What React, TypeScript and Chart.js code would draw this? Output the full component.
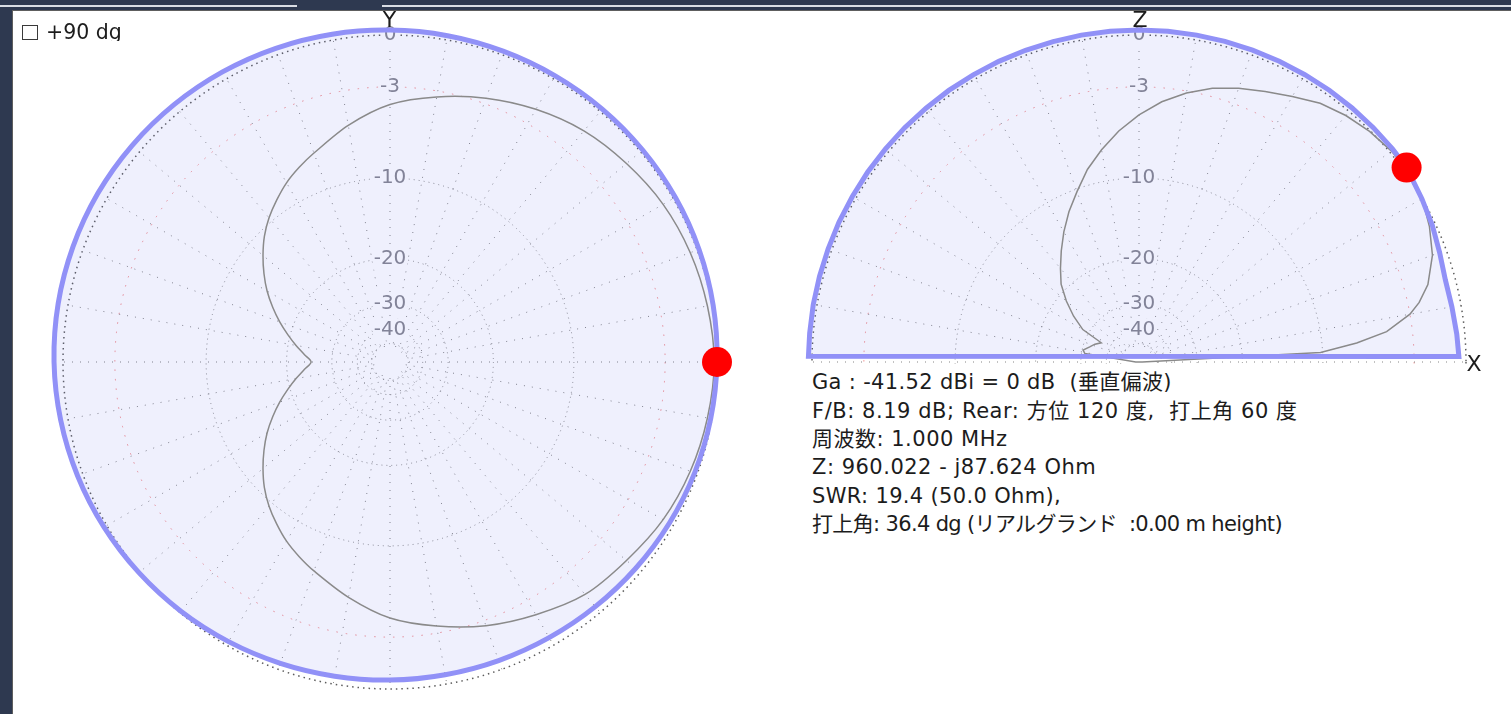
import { useEffect, useRef } from 'react';
import { Chart, registerables } from 'chart.js';

Chart.register(...registerables);
Chart.defaults.font.family = '"DejaVu Sans", sans-serif';

// ---- scale (MMANA log scale: radius ∝ 10^(dB/40)) ----
const RING_DB = [-50, -40, -30, -20, -10, -3, 0];
const RING_LABELS = ['', '-40', '-30', '-20', '-10', '-3', '0'];

// ---- azimuth plane (left plot): [angle deg CCW from +X, dB] ----
const AZ_TOTAL: [number, number][] = [
  [0, 0.0], [10, 0.06], [20, 0.1], [30, 0.13], [40, 0.15], [50, 0.17], [60, 0.18], [70, 0.2], [80, 0.23],
  [90, 0.26], [100, 0.31], [110, 0.36], [120, 0.42], [130, 0.47], [140, 0.51], [150, 0.54], [160, 0.54],
  [170, 0.52], [180, 0.47], [190, 0.39], [200, 0.29], [210, 0.17], [220, 0.04], [230, -0.09], [240, -0.22],
  [250, -0.34], [260, -0.43], [270, -0.48], [280, -0.51], [290, -0.5], [300, -0.47], [310, -0.41],
  [320, -0.33], [330, -0.24], [340, -0.15], [350, -0.07],
];
const AZ_VERT: [number, number][] = [
  [0, -0.15], [10, -0.25], [20, -0.4], [30, -0.63], [40, -1.0], [50, -1.4], [60, -1.98], [70, -2.65],
  [80, -3.38], [90, -4.15], [100, -5.35], [110, -6.7], [115, -7.3], [120, -7.95], [125, -8.75], [130, -9.6],
  [135, -10.6], [140, -11.8], [145, -13.1], [150, -14.5], [155, -16.1], [160, -17.8], [165, -19.6],
  [170, -21.4], [175, -23.2], [180, -24.7], [185, -23.2], [190, -21.4], [195, -19.6], [200, -17.8],
  [205, -16.1], [210, -14.5], [215, -13.1], [220, -11.8], [225, -10.6], [230, -9.6], [235, -8.75],
  [240, -7.95], [245, -7.3], [250, -6.7], [260, -5.45], [270, -4.25], [280, -3.45], [290, -2.66],
  [300, -1.98], [310, -1.3], [320, -1.0], [330, -0.63], [340, -0.4], [350, -0.25],
];
const AZ_PEAK: [number, number][] = [[0, 0.0]];

// ---- elevation plane (right plot): [elevation deg, dB] ----
const EL_TOTAL: [number, number][] = [
  [1, -0.38], [5, -0.43], [10, -0.5], [15, -0.53], [20, -0.38], [25, -0.18], [30, -0.02], [36, 0.2],
  [40, 0.22], [45, 0.23], [50, 0.24], [55, 0.25], [60, 0.25], [65, 0.26], [70, 0.26], [75, 0.26],
  [80, 0.26], [85, 0.26], [90, 0.26], [95, 0.26], [100, 0.26], [105, 0.25], [110, 0.25], [115, 0.25],
  [120, 0.24], [125, 0.24], [130, 0.23], [135, 0.23], [140, 0.22], [145, 0.22], [150, 0.21], [155, 0.21],
  [160, 0.2], [165, 0.2], [170, 0.2], [175, 0.19], [179, 0.19],
];
const EL_VERT: [number, number][] = [
  [0, -80], [3, -10.2], [5, -7.0], [7, -4.7], [10, -3.0], [12, -2.3], [15, -1.55], [20, -0.8], [25, -0.35],
  [30, 0.0], [36, 0.15], [40, 0.1], [45, -0.05], [50, -0.28], [55, -0.6], [60, -1.12], [65, -1.58],
  [70, -2.0], [75, -2.49], [80, -3.13], [85, -3.9], [90, -4.86], [95, -5.97], [100, -7.24], [105, -8.6],
  [110, -10.25], [115, -11.8], [120, -13.5], [125, -15.3], [130, -17.1], [135, -18.9], [140, -21.5],
  [145, -24.5], [150, -28.1], [153, -35.5], [158, -33.5], [163, -32.1], [168, -30.3], [171, -31.0],
  [180, -80],
];
const EL_PEAK: [number, number][] = [[36, 0.2]];

const INFO_LINES = [
  'Ga : -41.52 dBi = 0 dB  (垂直偏波)',
  'F/B: 8.19 dB; Rear: 方位 120 度,  打上角 60 度',
  '周波数: 1.000 MHz',
  'Z: 960.022 - j87.624 Ohm',
  'SWR: 19.4 (50.0 Ohm),',
  '打上角: 36.4 dg (リアルグランド  :0.00 m height)',
];
const INFO_SPACING = [0.33, 0.55, 0.5, 0.5, 0.33, -0.65];

const N = 360;
const toR = (db: number) => Math.pow(10, db / 40);
function series(points: [number, number][]) {
  const out: (number | null)[] = new Array(N).fill(null);
  for (const [deg, db] of points) {
    const idx = (((90 - deg) % N) + N) % N;
    out[idx] = toR(db);
  }
  return out;
}

const R = 327;
const SIZE = 720;
const HALF = SIZE / 2;
const INNER_GAP = 22;
// radial (angle) lines: dotted, starting outside the innermost ring
const ANGLE_DASH = [0, INNER_GAP, ...new Array(44).fill(0).flatMap(() => [1, 7])];

function PolarChart(props: {
  total: [number, number][];
  vert: [number, number][];
  peak: [number, number][];
  tTotal: number;
  tVert: number;
}) {
  const ref = useRef<HTMLCanvasElement>(null);
  useEffect(() => {
    const chart = new Chart(ref.current as HTMLCanvasElement, {
      type: 'radar',
      data: {
        labels: new Array(N).fill(''),
        datasets: [
          {
            data: series(props.peak),
            pointRadius: 15,
            pointBackgroundColor: '#ff0000',
            pointBorderWidth: 0,
            showLine: false,
            fill: false,
          } as any,
          {
            data: series(props.total),
            borderColor: '#9191f7',
            borderWidth: 5,
            backgroundColor: 'rgba(95,105,235,0.1)',
            fill: 'start',
            pointRadius: 0,
            spanGaps: true,
            tension: props.tTotal,
          },
          {
            data: series(props.vert),
            borderColor: '#8a8a8a',
            borderWidth: 1.5,
            fill: false,
            pointRadius: 0,
            spanGaps: true,
            tension: props.tVert,
          },
        ],
      },
      options: {
        responsive: false,
        animation: false,
        events: [],
        layout: { padding: 0 },
        plugins: {
          legend: { display: false },
          tooltip: { enabled: false },
          filler: { drawTime: 'beforeDatasetsDraw' },
        } as any,
        scales: {
          r: {
            min: 0,
            max: 1,
            startAngle: 0,
            afterBuildTicks: (s: any) => {
              s.ticks = [{ value: 0 }, ...RING_DB.map((d) => ({ value: toR(d) }))];
            },
            afterFit: (s: any) => {
              s.xCenter = HALF;
              s.yCenter = HALF;
              s.drawingArea = R;
            },
            ticks: {
              display: true,
              callback: (_v: any, i: number) => (i === 0 ? '' : RING_LABELS[i - 1]),
              font: { size: 20, family: '"DejaVu Sans", sans-serif' },
              color: '#86868f',
              backdropColor: '#ffffff',
              backdropPadding: 1,
              showLabelBackdrop: (c: any) => c.index > 1,
            },
            grid: {
              circular: true,
              color: (c: any) => (c.index === 6 ? '#f08c8c' : c.index === 7 ? '#5c5c5c' : '#8a8a8a'),
              lineWidth: (c: any) => (c.index === 7 ? 1.5 : 1),
            },
            border: {
              dash: (c: any) => (c.index === 6 ? [1.5, 8] : c.index === 7 ? [1.5, 4] : [1, 4]),
            },
            angleLines: {
              display: true,
              color: '#858585',
              lineWidth: (c: any) => (c.index % 10 === 0 ? 1 : 0),
              borderDash: ANGLE_DASH,
              borderDashOffset: (c: any) => ((c.index / 10) * 3) % 8,
            },
            pointLabels: { display: false },
          } as any,
        },
      },
    });
    return () => chart.destroy();
  }, []);
  return <canvas ref={ref} width={SIZE} height={SIZE} style={{ position: 'absolute', left: 0, top: 0 }} />;
}

const LEFT_CX = 390;
const RIGHT_CX = 1139;
const CY = 362;

export default function App() {
  const text = '#1c1c1c';
  const font = '"DejaVu Sans", "Noto Sans CJK JP", sans-serif';
  return (
    <div
      style={{
        position: 'fixed',
        left: 0,
        top: 0,
        width: 1511,
        height: 714,
        background: '#2e3950',
        overflow: 'hidden',
        fontFamily: font,
      }}
    >
      <div style={{ position: 'absolute', left: 0, top: 5, width: 297, height: 2, background: '#d9dde4' }} />
      <div style={{ position: 'absolute', left: 382, top: 5, width: 1511 - 382, height: 2, background: '#d9dde4' }} />
      <div
        style={{
          position: 'absolute',
          left: 12,
          top: 10,
          width: 1511 - 12,
          height: 714 - 10,
          background: '#ffffff',
          borderLeft: '1px solid #5e5e5e',
          borderTop: '1px solid #5e5e5e',
          boxSizing: 'border-box',
        }}
      />
      <div style={{ position: 'absolute', left: LEFT_CX - HALF, top: CY - HALF, width: SIZE, height: SIZE }}>
        <PolarChart total={AZ_TOTAL} vert={AZ_VERT} peak={AZ_PEAK} tTotal={0.3} tVert={0.3} />
      </div>
      <div
        style={{
          position: 'absolute',
          left: RIGHT_CX - HALF,
          top: CY - HALF,
          width: SIZE,
          height: HALF + 2,
          overflow: 'hidden',
        }}
      >
        <PolarChart total={EL_TOTAL} vert={EL_VERT} peak={EL_PEAK} tTotal={0} tVert={0} />
      </div>

      {/* checkbox + label */}
      <div
        style={{
          position: 'absolute',
          left: 22,
          top: 25,
          width: 16,
          height: 15,
          border: '1px solid #3a3a3a',
          boxSizing: 'border-box',
          background: '#fff',
        }}
      />
      <div
        style={{
          position: 'absolute',
          left: 46,
          top: 21.5,
          height: 19.5,
          overflow: 'hidden',
          fontSize: 20.5,
          lineHeight: '20.5px',
          color: text,
          whiteSpace: 'pre',
        }}
      >
        +90 dg
      </div>

      {/* axis letters */}
      {[
        { t: 'Y', x: 389.5, y: 9.4 },
        { t: 'Z', x: 1140, y: 9.4 },
        { t: 'X', x: 1474, y: 353.4 },
      ].map((l) => (
        <div
          key={l.t}
          style={{
            position: 'absolute',
            left: l.x - 20,
            top: l.y,
            width: 40,
            textAlign: 'center',
            fontSize: 22,
            lineHeight: '22px',
            color: text,
          }}
        >
          {l.t}
        </div>
      ))}

      {/* info text */}
      {INFO_LINES.map((line, i) => (
        <div
          key={i}
          style={{
            position: 'absolute',
            left: 812,
            top: 390 - 17.8 + i * 28.35,
            fontSize: 21,
            lineHeight: '21px',
            letterSpacing: INFO_SPACING[i] + 'px',
            color: text,
            whiteSpace: 'pre',
          }}
        >
          {line}
        </div>
      ))}
    </div>
  );
}
